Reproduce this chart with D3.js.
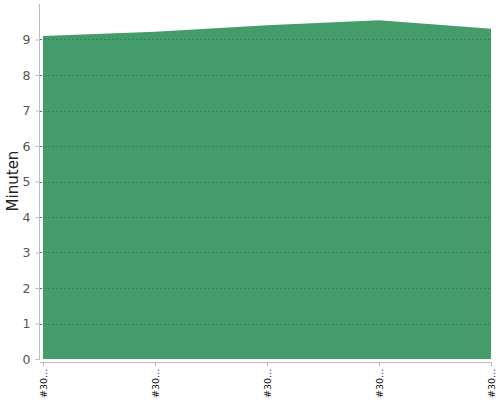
<!DOCTYPE html>
<html><head><meta charset="utf-8">
<script src="https://cdn.jsdelivr.net/npm/d3@7"></script>
<style>body{margin:0;background:#fff;} svg{display:block;} svg text{font-family:"DejaVu Sans",sans-serif;}</style>
</head><body>
<svg id="c" width="500" height="400"></svg>
<script>
const categories = ["#3001", "#3002", "#3003", "#3004", "#3005"];
const values = [9.10, 9.22, 9.40, 9.54, 9.30];
const yTicks = [0, 1, 2, 3, 4, 5, 6, 7, 8, 9];
const yLabel = "Minuten";

const svg = d3.select("#c");
const x = d3.scalePoint().domain(categories).range([43, 491]);
const y = d3.scaleLinear().domain([0, 10]).range([359, 4]);

// area
const area = d3.area().x((d,i)=>x(categories[i])).y0(y(0)).y1(d=>y(d));
svg.append("path").datum(values).attr("d", area).attr("fill", "#449c6b");

// grid
svg.append("g").selectAll("line").data(yTicks.filter(t=>t>0)).join("line")
  .attr("x1", 40).attr("x2", 491)
  .attr("y1", d=>Math.round(y(d))+0.5).attr("y2", d=>Math.round(y(d))+0.5)
  .attr("stroke", "#35815a").attr("stroke-width", 1).attr("stroke-dasharray", "2,2");

// y axis
const ya = svg.append("g").attr("transform", "translate(39.5,0)")
  .call(d3.axisLeft(y).tickValues(yTicks).tickSize(4).tickPadding(5).tickSizeOuter(0));
ya.attr("font-family", null);
ya.select(".domain").attr("stroke", "#bbb").attr("d", `M0,${y(10)}V${y(0)+1}`);
ya.selectAll(".tick line").attr("stroke", "#bbb");
ya.selectAll(".tick text").attr("fill", "#555").style("font-size", "12.5px");

// x axis
const xa = svg.append("g").attr("transform", "translate(0,362.5)")
  .call(d3.axisBottom(x).tickSize(4).tickSizeOuter(0).tickFormat(d=>d.slice(0,3)+"…"));
xa.attr("font-family", null);
xa.select(".domain").attr("stroke", "#bbb").attr("d", "M40,0H491");
xa.selectAll(".tick line").attr("stroke", "#bbb");
xa.selectAll(".tick text").attr("fill", "#111").style("font-size", "9.5px")
  .attr("transform", "rotate(-90)").attr("text-anchor", "end")
  .attr("x", -6).attr("y", 0).attr("dy", "0.35em");

svg.append("text").attr("transform", "translate(18,181) rotate(-90)")
  .attr("text-anchor", "middle").attr("fill", "#222").style("font-size", "15px").text(yLabel);
</script>
</body></html>
